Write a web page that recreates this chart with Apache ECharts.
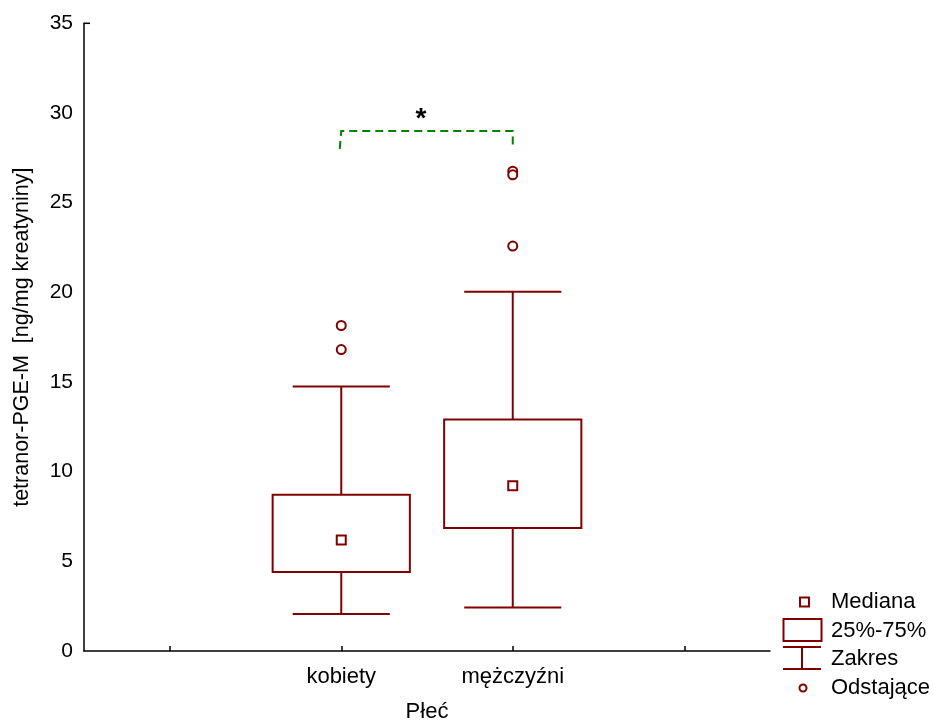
<!DOCTYPE html>
<html>
<head>
<meta charset="utf-8">
<title>tetranor-PGE-M wg płci</title>
<script src="https://cdn.jsdelivr.net/npm/echarts@6/dist/echarts.min.js"></script>
<style>
  html, body { margin: 0; padding: 0; background: #fff; }
  #chart { width: 933px; height: 722px; }
</style>
</head>
<body>
<div id="chart"></div>
<script>
// Category slots on the x axis (outer slots stay empty, as in the original layout)
const categories = ['', 'kobiety', 'mężczyźni', ''];
const groupIndex = [1, 2];

// Box statistics per group
const whiskerLow  = [2.06, 2.42];
const quartile1   = [4.40, 6.86];
const medians     = [6.19, 9.22];
const quartile3   = [8.71, 12.91];
const whiskerHigh = [14.75, 20.03];

// Outlying observations per group
const outliersKobiety   = [18.15, 16.81];
const outliersMezczyzni = [26.75, 26.55, 22.58];

// Significance bracket between the two groups
const bracketGroups = [1, 2];
const bracketLevels = [28, 29];   // foot, top
const bracketMark = '*';
const bracketMarkLevel = 30;

// Value axis
const yMin = 0, yMax = 35, yStep = 5;

const RED = '#800000';
const GREEN = '#008000';
const FONT = '"Liberation Sans", Arial, sans-serif';
const FS = 22;

const boxData = groupIndex.map((g, i) => [g, whiskerLow[i], quartile1[i], medians[i], quartile3[i], whiskerHigh[i]]);
const medianData = groupIndex.map((g, i) => [g, medians[i]]);
const outlierData = [
  ...outliersKobiety.map(v => [groupIndex[0], v]),
  ...outliersMezczyzni.map(v => [groupIndex[1], v])
];

const chart = echarts.init(document.getElementById('chart'), null, { renderer: 'canvas' });

const option = {
  animation: false,
  backgroundColor: '#fff',
  textStyle: { fontFamily: FONT },
  grid: { left: 84, top: 23.3, right: 163, bottom: 71, containLabel: false, outerBoundsMode: 'none' },
  xAxis: {
    type: 'category',
    data: categories,
    boundaryGap: true,
    name: 'Płeć',
    nameLocation: 'middle',
    nameGap: 50,
    nameTextStyle: { fontFamily: FONT, fontSize: FS, color: '#000' },
    axisLine: { lineStyle: { color: '#000', width: 1.5 } },
    axisTick: { show: true, inside: true, length: 5, alignWithLabel: true, lineStyle: { color: '#000', width: 1.5 } },
    axisLabel: { fontFamily: FONT, fontSize: FS, color: '#000', margin: 15, interval: 0 },
    splitLine: { show: false }
  },
  yAxis: {
    type: 'value',
    min: yMin, max: yMax, interval: yStep,
    name: 'tetranor-PGE-M  [ng/mg kreatyniny]',
    nameLocation: 'middle',
    nameGap: 51,
    nameRotate: 90,
    nameTextStyle: { fontFamily: FONT, fontSize: 21.5, color: '#000' },
    axisLine: { show: true, lineStyle: { color: '#000', width: 1.5 } },
    axisTick: { show: false },
    axisLabel: { fontFamily: FONT, fontSize: 21, color: '#000', margin: 11 },
    splitLine: { show: false }
  },
  series: [
    {
      name: '25%-75%',
      type: 'custom',
      data: boxData,
      z: 3,
      renderItem: function (params, api) {
        const x = api.value(0);
        const band = api.size([1, 0])[0];
        const half = band * 0.4;
        const capHalf = band * 0.283;
        const pLow = api.coord([x, api.value(1)]);
        const pQ1 = api.coord([x, api.value(2)]);
        const pQ3 = api.coord([x, api.value(4)]);
        const pHigh = api.coord([x, api.value(5)]);
        const lineStyle = { stroke: RED, lineWidth: 2, fill: null };
        return {
          type: 'group',
          children: [
            { type: 'rect', shape: { x: pQ1[0] - half, y: pQ3[1], width: half * 2, height: pQ1[1] - pQ3[1] },
              style: { stroke: RED, lineWidth: 2, fill: 'rgba(0,0,0,0)' } },
            { type: 'line', shape: { x1: pQ3[0], y1: pQ3[1], x2: pHigh[0], y2: pHigh[1] }, style: lineStyle },
            { type: 'line', shape: { x1: pLow[0], y1: pLow[1], x2: pQ1[0], y2: pQ1[1] }, style: lineStyle },
            { type: 'line', shape: { x1: pHigh[0] - capHalf, y1: pHigh[1], x2: pHigh[0] + capHalf, y2: pHigh[1] }, style: lineStyle },
            { type: 'line', shape: { x1: pLow[0] - capHalf, y1: pLow[1], x2: pLow[0] + capHalf, y2: pLow[1] }, style: lineStyle }
          ]
        };
      }
    },
    {
      name: 'Mediana',
      type: 'scatter',
      data: medianData,
      symbol: 'rect',
      symbolSize: 9,
      z: 4,
      itemStyle: { color: '#fff', borderColor: RED, borderWidth: 2, opacity: 1 }
    },
    {
      name: 'Odstające',
      type: 'scatter',
      data: outlierData,
      symbol: 'circle',
      symbolSize: 9,
      z: 4,
      itemStyle: { color: '#fff', borderColor: RED, borderWidth: 2, opacity: 1 }
    },
    {
      name: 'istotność',
      type: 'custom',
      data: [[bracketGroups[0], bracketGroups[1], bracketLevels[0], bracketLevels[1], bracketMarkLevel]],
      z: 5,
      renderItem: function (params, api) {
        const a = api.value(0), b = api.value(1);
        const aFoot = api.coord([a, api.value(2)]);
        const aTop = api.coord([a, api.value(3)]);
        const bTop = api.coord([b, api.value(3)]);
        const bFoot = api.coord([b, api.value(2)]);
        const markY = api.coord([a, api.value(4)])[1];
        const markX = (aTop[0] + bTop[0]) / 2;
        return {
          type: 'group',
          children: [
            { type: 'polyline',
              shape: { points: [[aFoot[0] - 1.5, aFoot[1]], aTop, bTop, bFoot] },
              style: { stroke: GREEN, lineWidth: 2, lineDash: [8, 5], fill: null } },
            { type: 'text', x: markX - 6, y: markY + 6,
              style: { text: bracketMark, fontFamily: FONT, fontSize: 28, fontWeight: 'bold', fill: '#000',
                       align: 'center', verticalAlign: 'middle' } }
          ]
        };
      }
    }
  ],
  graphic: [
    // short inward tick at the top end of the value axis
    { type: 'line', shape: { x1: 84, y1: 23.3, x2: 90, y2: 23.3 }, style: { stroke: '#000', lineWidth: 1.5 } },
    // legend
    { type: 'rect', shape: { x: 800, y: 597.5, width: 9, height: 9 }, style: { fill: '#fff', stroke: RED, lineWidth: 2 } },
    { type: 'text', x: 831, y: 602, style: { text: 'Mediana', fontFamily: FONT, fontSize: FS, fill: '#000', verticalAlign: 'middle' } },
    { type: 'rect', shape: { x: 783.5, y: 619, width: 38, height: 22 }, style: { fill: '#fff', stroke: RED, lineWidth: 2 } },
    { type: 'text', x: 831, y: 631, style: { text: '25%-75%', fontFamily: FONT, fontSize: FS, fill: '#000', verticalAlign: 'middle' } },
    { type: 'line', shape: { x1: 783, y1: 647, x2: 821, y2: 647 }, style: { stroke: RED, lineWidth: 2 } },
    { type: 'line', shape: { x1: 802, y1: 647, x2: 802, y2: 669 }, style: { stroke: RED, lineWidth: 2 } },
    { type: 'line', shape: { x1: 783, y1: 669, x2: 821, y2: 669 }, style: { stroke: RED, lineWidth: 2 } },
    { type: 'text', x: 831, y: 659, style: { text: 'Zakres', fontFamily: FONT, fontSize: FS, fill: '#000', verticalAlign: 'middle' } },
    { type: 'circle', shape: { cx: 803, cy: 688, r: 3.5 }, style: { fill: '#fff', stroke: RED, lineWidth: 2 } },
    { type: 'text', x: 831, y: 688, style: { text: 'Odstające', fontFamily: FONT, fontSize: FS, fill: '#000', verticalAlign: 'middle' } }
  ]
};

chart.setOption(option);
</script>
</body>
</html>
